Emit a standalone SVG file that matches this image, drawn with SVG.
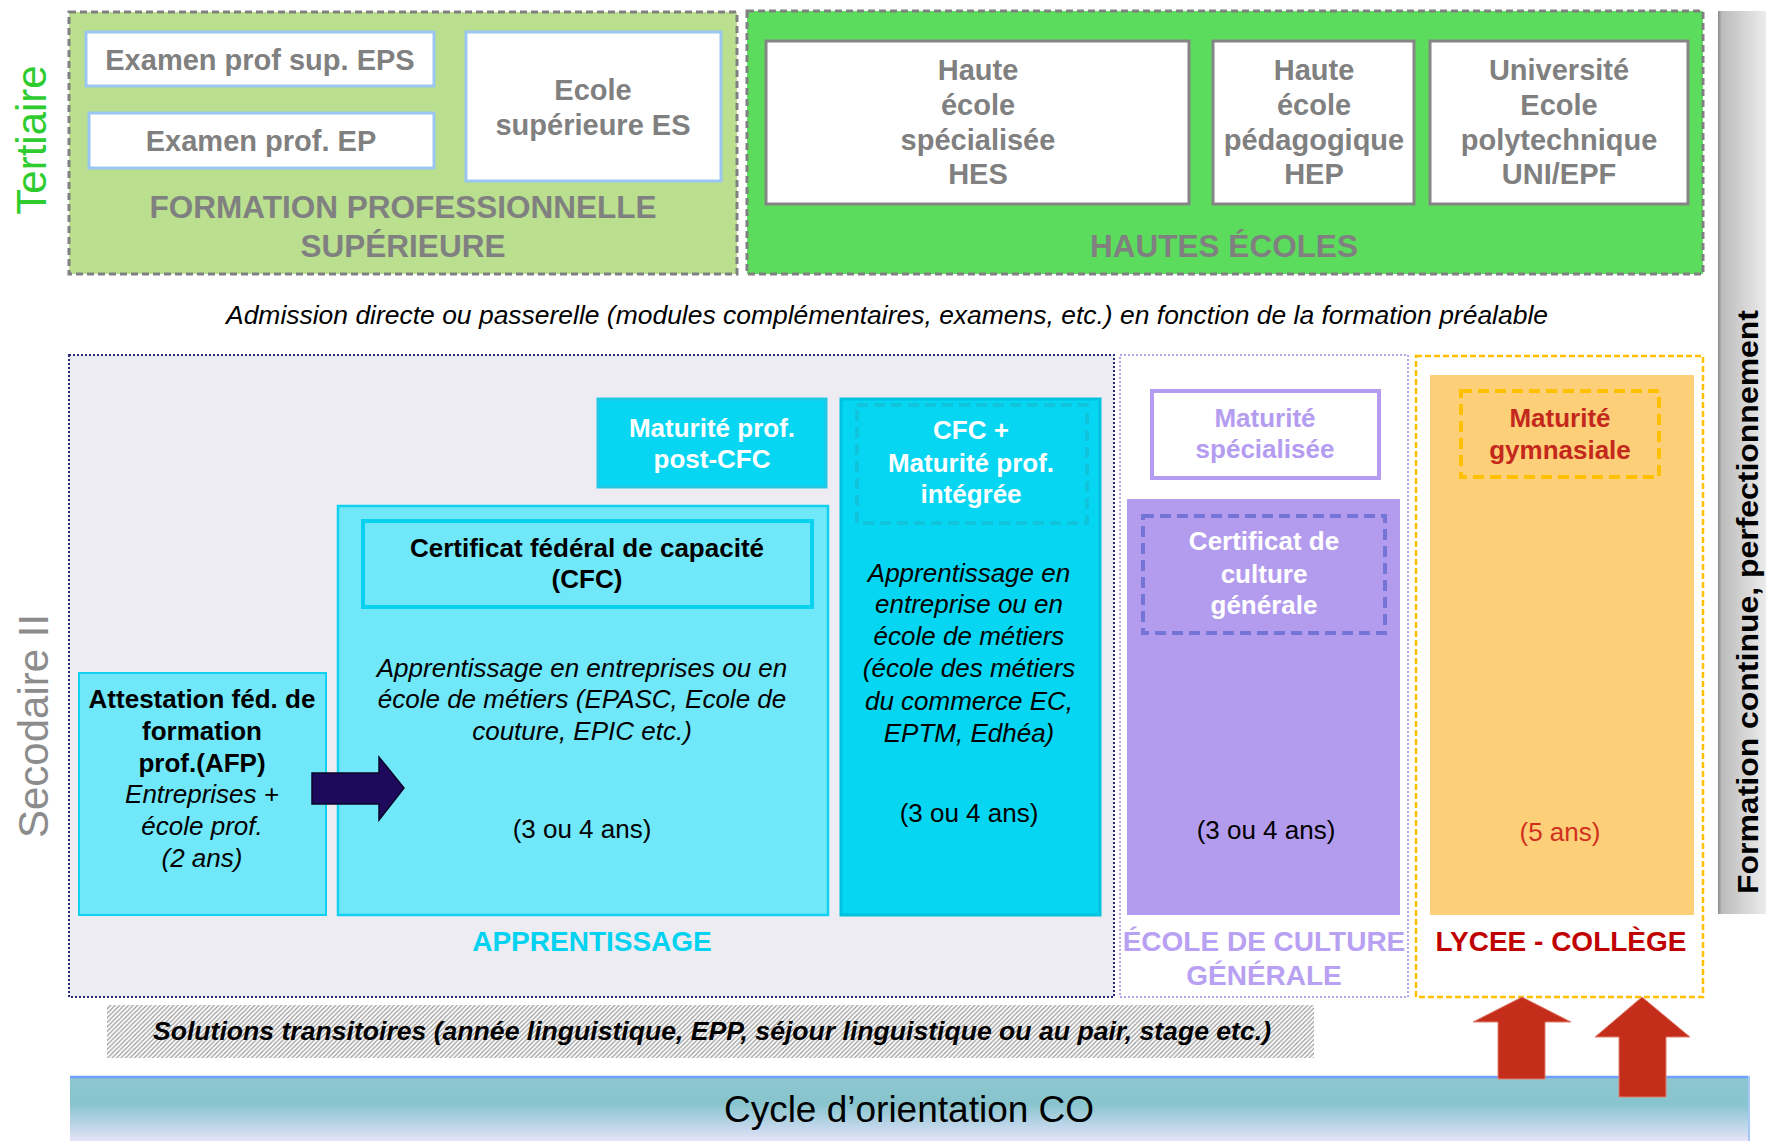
<svg xmlns="http://www.w3.org/2000/svg" width="1766" height="1141" viewBox="0 0 1766 1141">
<defs>
<style>
text{font-family:"Liberation Sans",Arial,sans-serif;}
.gb{font-weight:bold;fill:#808080;font-size:29px;text-anchor:middle;}
.gl{font-weight:bold;fill:#808080;font-size:31.5px;text-anchor:middle;}
.wb{font-weight:bold;fill:#ffffff;font-size:26px;text-anchor:middle;}
.kb{font-weight:bold;fill:#000000;font-size:26px;text-anchor:middle;}
.ki{font-style:italic;fill:#000000;font-size:26px;text-anchor:middle;}
.kr{fill:#000000;font-size:26px;text-anchor:middle;}
.lab{font-weight:bold;font-size:28px;text-anchor:middle;}
.wbox{fill:#ffffff;stroke:#9cc6f2;stroke-width:3;}
.gbox{fill:#ffffff;stroke:#858585;stroke-width:3;}
.tpanel{stroke:#808080;stroke-width:3;stroke-dasharray:7 4;}
</style>
<linearGradient id="bar" x1="0" y1="0" x2="1" y2="0">
<stop offset="0" stop-color="#8a8a8a"/>
<stop offset="0.08" stop-color="#bcbcbc"/>
<stop offset="1" stop-color="#ececec"/>
</linearGradient>
<linearGradient id="co" x1="0" y1="0" x2="0" y2="1">
<stop offset="0" stop-color="#8dc7d0"/>
<stop offset="0.4" stop-color="#88c4cd"/>
<stop offset="0.75" stop-color="#c4d8ec"/>
<stop offset="1" stop-color="#f3e8f8"/>
</linearGradient>
<pattern id="hatch" patternUnits="userSpaceOnUse" width="4.5" height="4.5">
<rect width="4.5" height="4.5" fill="#ffffff"/>
<path d="M-1,5.5 L5.5,-1 M-1,1 L1,-1 M3.5,5.5 L5.5,3.5" stroke="#9a9a9a" stroke-width="1.2"/>
</pattern>
</defs>

<rect width="1766" height="1141" fill="#ffffff"/>

<!-- side labels -->
<g id="label-tertiaire">
<text transform="translate(46,140) rotate(-90)" font-size="42" fill="#2ecc2e" text-anchor="middle">Tertiaire</text>
</g>
<g id="label-secondaire">
<text transform="translate(48,726) rotate(-90)" font-size="42" fill="#8c8c8c" text-anchor="middle">Secodaire II</text>
</g>

<!-- Formation continue bar -->
<g id="formation-continue">
<rect x="1718" y="11" width="48" height="903" fill="url(#bar)"/>
<text transform="translate(1758,602) rotate(-90)" font-size="30" font-weight="bold" fill="#000" text-anchor="middle" textLength="584" lengthAdjust="spacingAndGlyphs">Formation continue, perfectionnement</text>
</g>

<!-- Tertiary left panel -->
<g id="formation-professionnelle-superieure">
<rect class="tpanel" x="69" y="12" width="668" height="262" fill="#b9df8f"/>
<text class="gl" x="403" y="218">FORMATION PROFESSIONNELLE</text>
<text class="gl" x="403" y="257">SUPÉRIEURE</text>
</g>
<g id="examen-eps">
<rect class="wbox" x="86" y="32" width="348" height="54"/>
<text class="gb" x="260" y="70">Examen prof sup. EPS</text>
</g>
<g id="examen-ep">
<rect class="wbox" x="89" y="113" width="345" height="55"/>
<text class="gb" x="261" y="151">Examen prof. EP</text>
</g>
<g id="ecole-es">
<rect class="wbox" x="466" y="32" width="255" height="149"/>
<text class="gb" x="593" y="100">Ecole</text>
<text class="gb" x="593" y="135">supérieure ES</text>
</g>

<!-- Tertiary right panel -->
<g id="hautes-ecoles">
<rect class="tpanel" x="747" y="11" width="956" height="263" fill="#5cdc5c"/>
<text class="gl" x="1224" y="257">HAUTES ÉCOLES</text>
</g>
<g id="hes">
<rect class="gbox" x="766" y="41" width="423" height="163"/>
<text class="gb" x="978" y="80">Haute</text>
<text class="gb" x="978" y="115">école</text>
<text class="gb" x="978" y="150">spécialisée</text>
<text class="gb" x="978" y="184">HES</text>
</g>
<g id="hep">
<rect class="gbox" x="1213" y="41" width="201" height="163"/>
<text class="gb" x="1314" y="80">Haute</text>
<text class="gb" x="1314" y="115">école</text>
<text class="gb" x="1314" y="150">pédagogique</text>
<text class="gb" x="1314" y="184">HEP</text>
</g>
<g id="uni-epf">
<rect class="gbox" x="1430" y="41" width="258" height="163"/>
<text class="gb" x="1559" y="80">Université</text>
<text class="gb" x="1559" y="115">Ecole</text>
<text class="gb" x="1559" y="150">polytechnique</text>
<text class="gb" x="1559" y="184">UNI/EPF</text>
</g>

<!-- Admission text -->
<g id="admission">
<text x="887" y="324" font-size="26.5" font-style="italic" fill="#000" text-anchor="middle" textLength="1322" lengthAdjust="spacingAndGlyphs">Admission directe ou passerelle (modules complémentaires, examens, etc.) en fonction de la formation préalable</text>
</g>

<!-- Secondary panels -->
<g id="apprentissage">
<rect x="69" y="355" width="1045" height="642" fill="#ececf2" stroke="#2a2a80" stroke-width="2" stroke-dasharray="2 2"/>
<text class="lab" x="592" y="951" fill="#00d2f0">APPRENTISSAGE</text>
</g>
<g id="ecole-culture-generale">
<rect x="1120" y="355" width="288" height="642" fill="#ffffff" stroke="#b4a4e8" stroke-width="2" stroke-dasharray="2 2"/>
<text class="lab" x="1264" y="951" fill="#b8a0f2">ÉCOLE DE CULTURE</text>
<text class="lab" x="1264" y="985" fill="#b8a0f2">GÉNÉRALE</text>
</g>
<g id="lycee-college">
<rect x="1416" y="356" width="287" height="641" fill="#ffffff" stroke="#ffc000" stroke-width="2.5" stroke-dasharray="6 3"/>
<text class="lab" x="1561" y="951" fill="#c00000">LYCEE - COLLÈGE</text>
</g>

<g id="afp">
<rect x="79" y="673" width="247" height="242" fill="#70e8fa" stroke="#10d2f0" stroke-width="2"/>
<text class="kb" x="202" y="708">Attestation féd. de</text>
<text class="kb" x="202" y="740">formation</text>
<text class="kb" x="202" y="772">prof.(AFP)</text>
<text class="ki" x="202" y="803">Entreprises +</text>
<text class="ki" x="202" y="835">école prof.</text>
<text class="ki" x="202" y="867">(2 ans)</text>
</g>

<g id="cfc">
<rect x="338" y="506" width="490" height="409" fill="#70e8fa" stroke="#10d2f0" stroke-width="2.5"/>
<rect x="363" y="521" width="449" height="86" fill="none" stroke="#08d2f0" stroke-width="4"/>
<text class="kb" x="587" y="557">Certificat fédéral de capacité</text>
<text class="kb" x="587" y="588">(CFC)</text>
<text class="ki" x="582" y="677">Apprentissage en entreprises ou en</text>
<text class="ki" x="582" y="708">école de métiers (EPASC, Ecole de</text>
<text class="ki" x="582" y="740">couture, EPIC etc.)</text>
<text class="kr" x="582" y="838">(3 ou 4 ans)</text>
</g>

<g id="maturite-post-cfc">
<rect x="598" y="399" width="228" height="88" fill="#06d6f2" stroke="#20c8e4" stroke-width="3"/>
<text class="wb" x="712" y="437">Maturité prof.</text>
<text class="wb" x="712" y="468">post-CFC</text>
</g>

<g id="cfc-maturite-integree">
<rect x="841" y="399" width="259" height="516" fill="#06d6f2" stroke="#00c2de" stroke-width="3"/>
<rect x="857" y="405" width="230" height="118" fill="none" stroke="#10c4dc" stroke-width="4" stroke-dasharray="11 6"/>
<text class="wb" x="971" y="439">CFC +</text>
<text class="wb" x="971" y="472">Maturité prof.</text>
<text class="wb" x="971" y="503">intégrée</text>
<text class="ki" x="969" y="582">Apprentissage en</text>
<text class="ki" x="969" y="613">entreprise ou en</text>
<text class="ki" x="969" y="645">école de métiers</text>
<text class="ki" x="969" y="677">(école des métiers</text>
<text class="ki" x="969" y="710">du commerce EC,</text>
<text class="ki" x="969" y="742">EPTM, Edhéa)</text>
<text class="kr" x="969" y="822">(3 ou 4 ans)</text>
</g>

<g id="maturite-specialisee">
<rect x="1152" y="391" width="227" height="87" fill="#ffffff" stroke="#b49cf0" stroke-width="4"/>
<text class="lab" x="1265" y="427" fill="#b49cf0" style="font-size:26px">Maturité</text>
<text class="lab" x="1265" y="458" fill="#b49cf0" style="font-size:26px">spécialisée</text>
</g>

<g id="certificat-culture-generale">
<rect x="1127" y="499" width="273" height="416" fill="#b39cee"/>
<rect x="1143" y="516" width="242" height="117" fill="none" stroke="#7474d6" stroke-width="4" stroke-dasharray="11 6"/>
<text class="wb" x="1264" y="550">Certificat de</text>
<text class="wb" x="1264" y="583">culture</text>
<text class="wb" x="1264" y="614">générale</text>
<text class="kr" x="1266" y="839">(3 ou 4 ans)</text>
</g>

<g id="maturite-gymnasiale">
<rect x="1430" y="375" width="264" height="540" fill="#fdcf78"/>
<rect x="1461" y="391" width="198" height="86" fill="none" stroke="#ffc000" stroke-width="4" stroke-dasharray="11 6"/>
<text class="lab" x="1560" y="427" fill="#c4281c" style="font-size:26px">Maturité</text>
<text class="lab" x="1560" y="459" fill="#c4281c" style="font-size:26px">gymnasiale</text>
<text class="kr" x="1560" y="841" style="fill:#d0301c">(5 ans)</text>
</g>

<!-- Solutions transitoires -->
<g id="solutions-transitoires">
<rect x="107" y="1005" width="1207" height="53" fill="url(#hatch)"/>
<text x="712" y="1040" font-size="26" font-weight="bold" font-style="italic" fill="#000" text-anchor="middle" textLength="1118" lengthAdjust="spacingAndGlyphs">Solutions transitoires (année linguistique, EPP, séjour linguistique ou au pair, stage etc.)</text>
</g>

<!-- Cycle d'orientation -->
<g id="cycle-orientation">
<rect x="70" y="1076" width="1679" height="70" fill="url(#co)"/>
<line x1="70" y1="1077" x2="1749" y2="1077" stroke="#6f9ff8" stroke-width="2.5"/>
<line x1="1749" y1="1076" x2="1749" y2="1141" stroke="#a8c8f8" stroke-width="2"/>
<text x="909" y="1122" font-size="37" fill="#000" text-anchor="middle">Cycle d’orientation CO</text>
</g>

<!-- connectors -->
<g id="connectors">
<polygon points="312,773 379,773 379,757 404,788 379,820 379,804 312,804" fill="#1e0a5c" stroke="#0a0428" stroke-width="1.5"/>
<polygon points="1522,997 1571,1022 1545,1022 1545,1079 1498,1079 1498,1022 1473,1022" fill="#c32d1a" stroke="#e08070" stroke-width="1"/>
<polygon points="1642,997 1690,1037 1666,1037 1666,1097 1619,1097 1619,1037 1595,1037" fill="#c32d1a" stroke="#e08070" stroke-width="1"/>
</g>
</svg>
